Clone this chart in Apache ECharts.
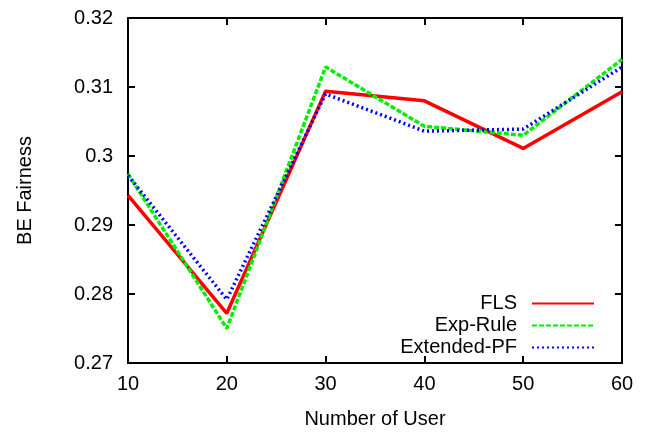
<!DOCTYPE html>
<html><head><meta charset="utf-8">
<script src="https://cdn.jsdelivr.net/npm/echarts@6/dist/echarts.min.js"></script>
<style>html,body{margin:0;padding:0;background:#fff}#c{width:651px;height:434px}</style>
</head><body><div id="c"></div>
<script>
const users = [10, 20, 30, 40, 50, 60];
const fls = [0.2943, 0.2772, 0.3094, 0.3080, 0.3011, 0.3093];
const expRule = [0.2974, 0.2750, 0.3129, 0.3043, 0.3030, 0.3140];
const extPF = [0.2972, 0.2792, 0.3090, 0.3036, 0.3039, 0.3129];
const yTicks = [0.27, 0.28, 0.29, 0.30, 0.31, 0.32];

const font = 'Liberation Sans, Arial, sans-serif';
const chart = echarts.init(document.getElementById('c'));
const pairs = a => users.map((u, i) => [u, a[i]]);
const axisLine = {show: true, lineStyle: {color: '#000', width: 2}};
const tick = {show: true, inside: true, length: 7, lineStyle: {color: '#000', width: 2}};
chart.setOption({
  animation: false,
  grid: {left: 128, top: 18, right: 29, bottom: 67},
  xAxis: [{
    type: 'value', min: 10, max: 60, interval: 10,
    name: 'Number of User', nameLocation: 'middle', nameGap: 46,
    nameTextStyle: {fontFamily: font, fontSize: 20, color: '#000'},
    axisLine, axisTick: tick, splitLine: {show: false},
    axisLabel: {fontFamily: font, fontSize: 20, color: '#000', margin: 11}
  }, {
    type: 'value', position: 'top', min: 10, max: 60, interval: 10,
    axisLine, axisTick: tick, splitLine: {show: false}, axisLabel: {show: false}
  }],
  yAxis: [{
    type: 'value', min: 0.27, max: 0.32, interval: 0.01,
    name: 'BE Fairness', nameLocation: 'middle', nameGap: 93, nameRotate: 90,
    nameTextStyle: {fontFamily: font, fontSize: 20, color: '#000'},
    axisLine, axisTick: tick, splitLine: {show: false},
    axisLabel: {fontFamily: font, fontSize: 20, color: '#000', margin: 15,
      formatter: v => { const t = yTicks.find(x => Math.abs(x - v) < 1e-9); return t === undefined ? '' : String(+t.toFixed(2)); }}
  }, {
    type: 'value', position: 'right', min: 0.27, max: 0.32, interval: 0.01,
    axisLine, axisTick: tick, splitLine: {show: false}, axisLabel: {show: false}
  }],
  legend: {
    orient: 'vertical', right: 56, top: 293, align: 'right', padding: 0,
    itemWidth: 62, itemHeight: 10, itemGap: 1,
    itemStyle: {opacity: 0},
    textStyle: {fontFamily: font, fontSize: 20, color: '#000', lineHeight: 21, padding: [0, 10, 0, 0]},
    data: ['FLS', 'Exp-Rule', 'Extended-PF']
  },
  series: [
    {name: 'FLS', type: 'line', data: pairs(fls), showSymbol: false, symbol: 'none',
     lineStyle: {color: '#ff0000', width: 3.5}, itemStyle: {color: '#ff0000'}},
    {name: 'Exp-Rule', type: 'line', data: pairs(expRule), showSymbol: false, symbol: 'none',
     lineStyle: {color: '#00ee00', width: 3.5, type: [5, 2]}, itemStyle: {color: '#00ee00'}},
    {name: 'Extended-PF', type: 'line', data: pairs(extPF), showSymbol: false, symbol: 'none',
     lineStyle: {color: '#0000ff', width: 3.5, type: [2, 3]}, itemStyle: {color: '#0000ff'}}
  ]
});
</script></body></html>
